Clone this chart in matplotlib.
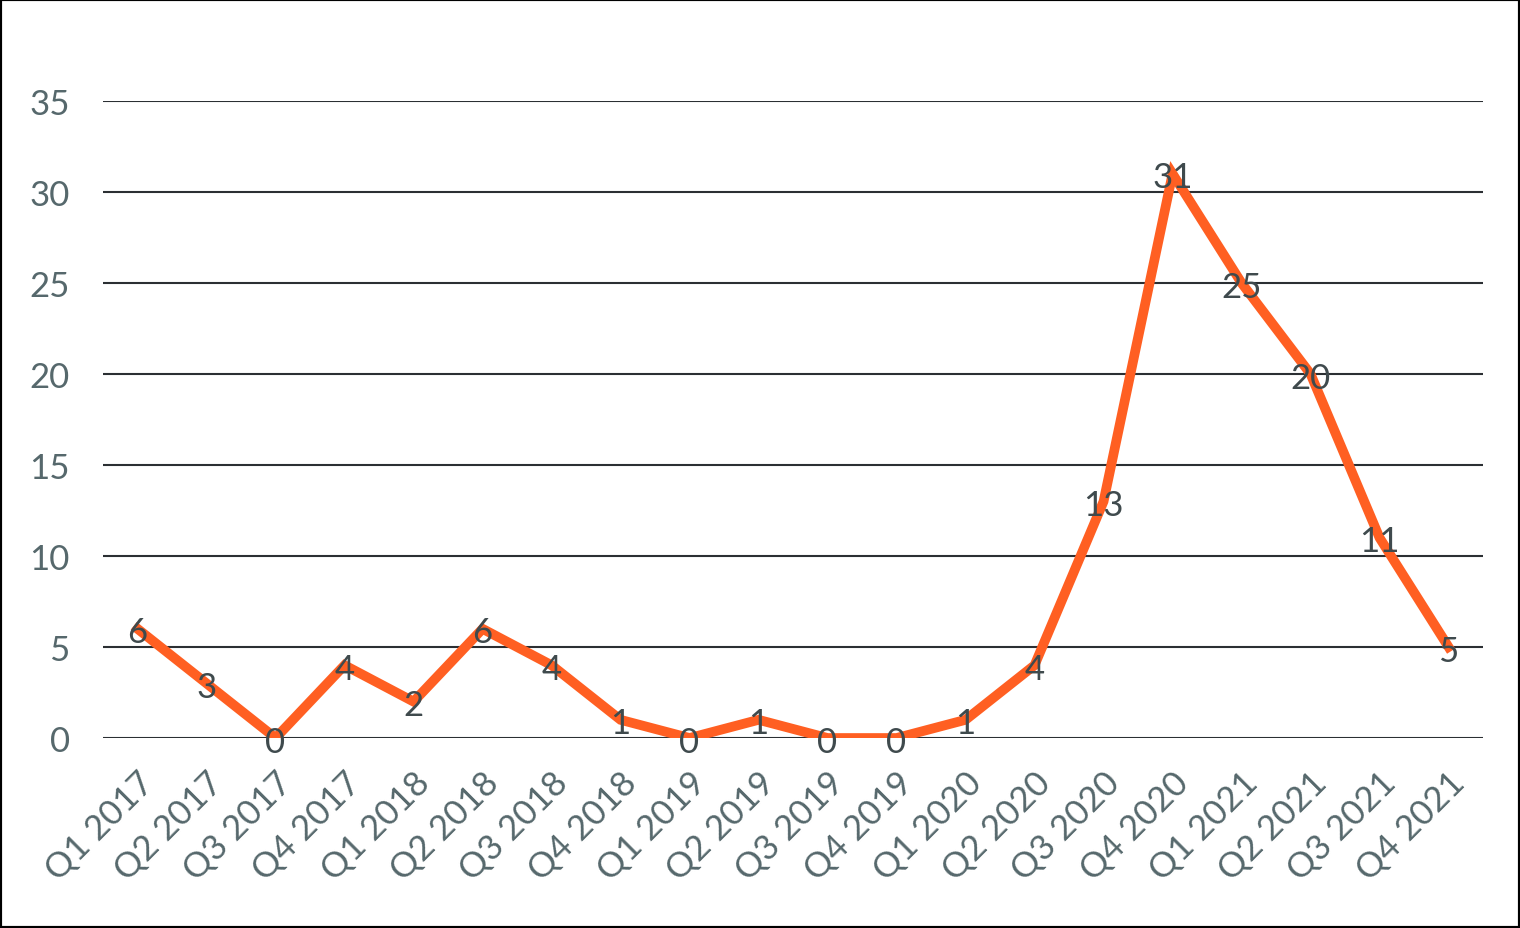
import matplotlib
matplotlib.use('Agg')
import matplotlib.pyplot as plt
from matplotlib.patches import Rectangle

plt.rcParams['font.family'] = ['Lato', 'DejaVu Sans']

# ── 데이터 ──
quarters = ['Q1 2017', 'Q2 2017', 'Q3 2017', 'Q4 2017',
            'Q1 2018', 'Q2 2018', 'Q3 2018', 'Q4 2018',
            'Q1 2019', 'Q2 2019', 'Q3 2019', 'Q4 2019',
            'Q1 2020', 'Q2 2020', 'Q3 2020', 'Q4 2020',
            'Q1 2021', 'Q2 2021', 'Q3 2021', 'Q4 2021']
counts = [6, 3, 0, 4, 2, 6, 4, 1, 0, 1, 0, 0, 1, 4, 13, 31, 25, 20, 11, 5]
y_ticks = [0, 5, 10, 15, 20, 25, 30, 35]

line_color = '#FF5F22'
tick_color = '#56686C'
label_color = '#3F4A4D'

fig = plt.figure(figsize=(15.2, 9.29), dpi=100)
ax = fig.add_axes([0.0678, 0.2045, 0.9079, 0.6857])

x = list(range(len(quarters)))
ax.plot(x, counts, color=line_color, linewidth=7, solid_joinstyle='miter', zorder=3)
for xi, v in zip(x, counts):
    ax.text(xi, v - 0.2, str(v), ha='center', va='center', fontsize=25,
            color=label_color, zorder=4)

ax.set_xlim(-0.5, len(quarters) - 0.5)
ax.set_ylim(0, 35)
ax.set_yticks(y_ticks)
ax.set_xticks(x)
ax.set_xticklabels(quarters, rotation=45, ha='right', rotation_mode='anchor')
ax.tick_params(axis='both', length=0, colors=tick_color, labelsize=25)
ax.tick_params(axis='y', pad=24)
ax.tick_params(axis='x', pad=20)

ax.grid(axis='y', color='#2b2f33', linewidth=1.5, zorder=1)
ax.set_axisbelow(True)
for s in ax.spines.values():
    s.set_visible(False)

# 외곽선
fig.patches.append(Rectangle((0, 0), 1, 1, transform=fig.transFigure,
                             fill=False, edgecolor='black', linewidth=3))

fig.savefig('out.png', dpi=100)
